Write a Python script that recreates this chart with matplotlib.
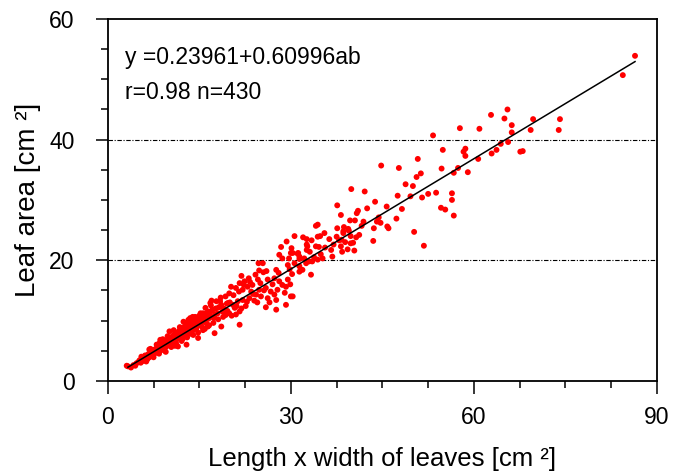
import matplotlib
matplotlib.use("Agg")
import matplotlib.pyplot as plt
from matplotlib.ticker import MultipleLocator

plt.rcParams['font.family'] = ['Liberation Sans', 'DejaVu Sans']

# fitted relation y = a + b * (length x width)
fit_a = 0.23961
fit_b = 0.60996
fit_range = [3.3, 86.4]

# length x width of leaves [cm2]
ab = [
    3.3, 3.8, 3.1, 4.2, 4.7, 4.5, 5.0, 5.2, 5.4, 5.6, 5.8, 5.9, 6.0, 6.1, 6.2, 6.4, 6.5, 6.6, 6.7, 6.8,
    6.9, 7.0, 7.1, 7.2, 7.3, 7.4, 7.5, 7.6, 7.7, 7.8, 7.9, 8.0, 8.1, 8.2, 8.3, 8.4, 8.5, 8.6, 8.7, 8.8,
    8.9, 9.0, 9.1, 9.2, 9.3, 9.4, 9.5, 9.6, 9.7, 9.8, 9.9, 10.0, 10.1, 10.1, 10.2, 10.3, 10.4, 10.5, 10.6, 10.7,
    10.8, 10.9, 11.0, 11.1, 11.2, 11.3, 11.4, 11.5, 11.5, 11.6, 11.7, 11.8, 11.9, 12.0, 12.1, 12.2, 12.3, 12.4, 12.5, 12.6,
    12.7, 12.8, 12.9, 12.9, 13.0, 13.1, 13.2, 13.3, 13.4, 13.5, 13.6, 13.7, 13.8, 13.9, 14.0, 14.1, 14.2, 14.3, 14.4, 14.5,
    14.6, 14.7, 14.8, 14.9, 15.0, 15.1, 15.2, 15.3, 15.4, 15.5, 15.6, 15.7, 15.8, 15.9, 16.0, 16.1, 16.2, 16.3, 16.4, 16.5,
    16.6, 16.7, 16.8, 16.9, 17.0, 17.2, 17.4, 17.5, 17.6, 17.8, 18.0, 18.2, 18.4, 18.6, 18.6, 18.8, 19.0, 19.1, 19.3, 19.5,
    19.7, 19.9, 19.9, 20.2, 20.5, 20.8, 21.0, 21.0, 21.3, 21.6, 21.6, 21.6, 21.9, 22.1, 22.1, 22.4, 22.6, 22.9, 23.1, 23.2,
    23.5, 23.7, 24.0, 24.3, 24.6, 24.7, 24.8, 24.8, 25.1, 25.4, 25.5, 25.9, 25.9, 26.2, 26.2, 26.7, 27.3, 27.3, 27.6, 27.6,
    27.6, 27.8, 28.1, 28.1, 28.4, 28.6, 28.6, 29.2, 29.2, 29.3, 29.5, 29.5, 29.7, 29.8, 30.0, 30.0, 30.1, 30.2, 30.3, 30.3,
    30.6, 30.6, 31.1, 31.2, 31.4, 31.4, 31.4, 31.4, 31.9, 32.0, 32.2, 32.5, 32.6, 32.6, 32.6, 32.7, 33.0, 33.1, 33.3, 33.4,
    33.5, 33.8, 34.1, 34.1, 34.4, 34.4, 34.4, 34.6, 34.8, 34.9, 35.2, 35.5, 35.6, 36.3, 36.6, 36.8, 37.0, 37.5, 37.6, 37.6,
    37.9, 38.2, 38.2, 38.3, 38.4, 38.6, 38.6, 38.7, 38.9, 39.3, 39.4, 39.5, 39.7, 39.8, 39.8, 39.9, 40.2, 40.4, 40.5, 40.7,
    40.8, 41.0, 41.2, 41.6, 41.9, 42.1, 42.5, 43.5, 43.6, 43.8, 44.1, 44.4, 44.7, 44.8, 45.7, 45.8, 46.0, 47.3, 47.5, 47.7,
    48.2, 48.8, 49.6, 50.0, 50.2, 50.6, 50.8, 51.3, 51.5, 51.8, 52.5, 53.3, 53.8, 54.6, 54.7, 54.9, 55.3, 56.4, 56.4, 56.7,
    56.7, 57.4, 57.7, 58.3, 58.6, 58.6, 59.0, 60.7, 60.9, 62.8, 62.9, 63.7, 64.4, 65.0, 65.5, 65.6, 66.2, 66.2, 67.6, 68.0,
    69.3, 69.7, 74.1, 73.9, 84.4, 86.4,
    5.5, 6.3, 7.0, 7.5, 8.0, 8.4, 9.0, 9.3, 9.8, 10.4, 10.8, 11.2, 11.8, 12.1, 12.7, 13.0, 13.5, 14.0, 14.3, 14.8,
    15.2, 15.6, 16.0, 16.4, 16.9, 17.3, 17.7, 18.1, 18.5, 18.9, 19.3, 19.6, 20.0, 20.3, 20.6, 21.1, 21.5, 21.9, 22.3, 22.8,
    23.3, 23.8, 24.2, 24.5, 25.0, 25.6, 26.0, 26.5, 27.0, 28.0, 29.0, 29.9, 11.0, 12.4, 13.9, 17.0, 6.8, 8.6, 9.5,
]

# leaf area [cm2]
leaf_area = [
    2.4, 2.2, 2.5, 2.6, 2.9, 2.5, 3.1, 3.4, 3.0, 3.6, 3.3, 3.9, 3.5, 4.2, 3.8, 4.0, 3.6, 4.4, 4.1, 3.9,
    4.6, 4.3, 4.8, 4.2, 4.5, 5.0, 4.4, 4.7, 5.2, 4.6, 4.9, 5.4, 5.0, 4.8, 5.6, 5.2, 6.3, 5.0, 5.5, 5.9,
    5.3, 5.7, 6.2, 5.4, 6.0, 6.6, 5.6, 6.1, 5.8, 6.8, 6.3, 6.0, 8.2, 6.5, 7.0, 6.2, 6.7, 7.3, 6.4, 6.9,
    7.6, 6.6, 7.1, 7.8, 6.8, 7.4, 8.0, 5.7, 7.0, 7.6, 8.3, 7.2, 7.8, 8.6, 7.4, 8.0, 7.0, 8.4, 7.7, 9.0,
    8.1, 7.5, 6.0, 8.6, 9.3, 8.0, 10.1, 8.5, 9.0, 7.8, 9.6, 8.7, 9.2, 10.0, 8.4, 9.4, 8.9, 10.2, 9.7, 8.6,
    10.5, 9.1, 7.1, 9.9, 10.8, 9.4, 10.2, 10.9, 9.0, 10.4, 11.2, 9.8, 10.6, 8.6, 10.1, 11.0, 9.5, 10.7, 11.5, 10.3,
    9.2, 11.1, 12.9, 10.6, 11.6, 11.8, 10.4, 7.9, 11.0, 13.2, 11.2, 12.2, 13.2, 9.0, 12.6, 11.5, 12.0, 11.8, 10.9, 12.8,
    12.9, 14.5, 11.2, 15.6, 12.6, 12.1, 15.4, 11.0, 13.2, 9.3, 11.5, 16.2, 17.4, 13.4, 15.1, 16.5, 12.4, 15.6, 17.0, 13.7,
    14.8, 15.9, 13.3, 14.3, 16.8, 19.5, 18.3, 15.1, 14.0, 19.5, 18.0, 15.4, 12.2, 16.8, 13.7, 14.8, 17.0, 14.3, 18.4, 13.4,
    11.8, 15.1, 16.5, 20.9, 22.2, 20.3, 15.9, 15.6, 12.6, 23.1, 19.2, 16.8, 20.3, 18.5, 21.2, 14.0, 22.0, 17.7, 14.0, 21.2,
    24.0, 19.5, 21.1, 21.2, 20.6, 19.0, 18.1, 20.2, 18.4, 23.8, 20.3, 19.5, 23.5, 21.7, 22.6, 22.3, 19.8, 21.4, 17.6, 23.3,
    19.8, 20.5, 25.7, 22.3, 25.9, 20.1, 23.9, 22.2, 24.0, 21.0, 20.3, 24.5, 22.1, 23.5, 21.7, 20.6, 22.6, 23.9, 29.1, 25.3,
    23.3, 27.5, 22.3, 23.4, 21.4, 24.8, 24.5, 25.5, 23.0, 21.8, 25.2, 24.9, 26.6, 24.0, 22.8, 31.8, 22.9, 21.6, 26.6, 23.8,
    27.8, 28.2, 24.2, 25.7, 26.4, 31.4, 28.6, 23.2, 25.3, 29.7, 26.4, 27.1, 26.2, 35.7, 28.9, 25.6, 25.3, 26.9, 30.7, 35.3,
    28.5, 32.6, 30.6, 32.3, 24.7, 33.8, 36.8, 34.4, 30.4, 22.4, 31.0, 40.7, 31.2, 28.7, 35.2, 38.3, 28.4, 31.1, 30.0, 34.5,
    27.4, 35.3, 41.9, 38.0, 38.5, 37.3, 34.6, 36.8, 41.8, 44.1, 37.7, 38.3, 39.3, 43.5, 45.0, 39.6, 42.4, 41.2, 38.0, 38.1,
    41.6, 43.4, 43.4, 41.6, 50.7, 53.9,
    4.0, 3.2, 5.3, 3.9, 6.0, 4.5, 6.9, 5.0, 7.4, 5.6, 8.4, 6.2, 8.9, 6.6, 9.6, 7.2, 10.4, 7.6, 10.6, 8.0,
    11.2, 8.4, 12.1, 9.0, 12.5, 9.6, 12.0, 10.2, 13.8, 10.6, 14.0, 11.6, 13.0, 10.8, 14.2, 12.4, 14.8, 12.0, 15.9, 13.1,
    16.4, 14.4, 17.6, 13.0, 16.2, 15.0, 18.2, 13.0, 16.0, 17.9, 14.6, 16.0, 5.8, 9.8, 10.6, 13.3, 5.2, 6.8, 4.8,
]

x_ticks = [0, 30, 60, 90]
y_ticks = [0, 20, 40, 60]
ref_lines = [20, 40]

fig = plt.figure(figsize=(6.78, 4.76), dpi=100)
ax = fig.add_axes([0.159, 0.200, 0.810, 0.760])

for yl in ref_lines:
    ax.axhline(yl, color="black", lw=0.8, ls=(0, (4, 1.5, 1, 1.5)), zorder=1)

ax.scatter(ab, leaf_area, s=18, color="#ff0000", edgecolors="none", zorder=2)
fx = fit_range
fy = [fit_a + fit_b * v for v in fx]
ax.plot(fx, fy, color="black", lw=1.1, zorder=3)

ax.set_xlim(0, 90)
ax.set_ylim(0, 60)
ax.set_xticks(x_ticks)
ax.set_yticks(y_ticks)
ax.xaxis.set_minor_locator(MultipleLocator(7.5))
ax.yaxis.set_minor_locator(MultipleLocator(5))
ax.tick_params(which="major", direction="out", length=9, width=1.1, labelsize=16.5)
ax.tick_params(axis="x", which="major", pad=9)
ax.tick_params(axis="y", which="major", pad=15)
ax.tick_params(which="minor", direction="out", length=5, width=1.1)
for sp in ax.spines.values():
    sp.set_linewidth(1.3)

ax.set_xlabel("Length x width of leaves [cm ²]", fontsize=18.5, va="center")
ax.set_ylabel("Leaf area [cm ²]", fontsize=20, va="center")
ax.xaxis.set_label_coords(0.5, -0.215)
ax.yaxis.set_label_coords(-0.146, 0.5)

ax.text(2.8, 53.7, "y =0.23961+0.60996ab", fontsize=16.5, va="center", ha="left")
ax.text(2.8, 47.8, "r=0.98 n=430", fontsize=16.5, va="center", ha="left")

fig.savefig("out.png", dpi=100)
